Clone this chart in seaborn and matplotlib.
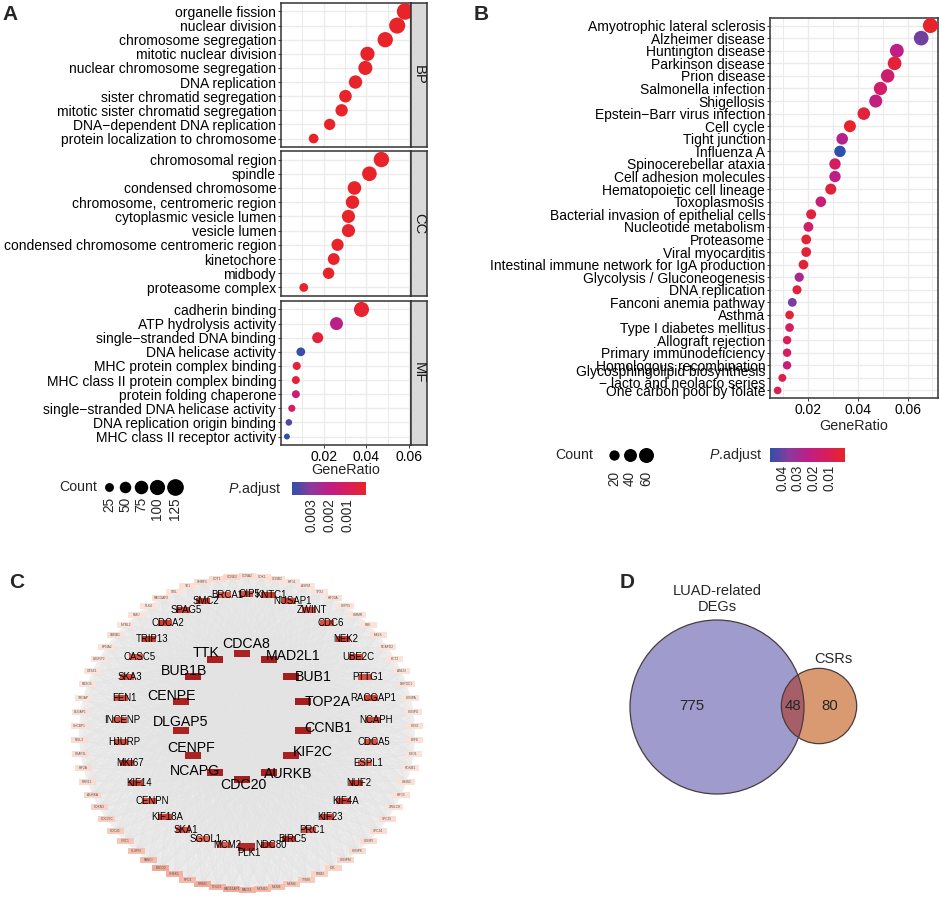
import numpy as np
import pandas as pd
import matplotlib
matplotlib.use('Agg')
import matplotlib.pyplot as plt
import seaborn as sns
from matplotlib.colors import LinearSegmentedColormap, Normalize
from matplotlib.colorbar import ColorbarBase
from matplotlib.patches import Rectangle, Circle, Ellipse

W, H = 941, 899
MINUS = '\u2212'

# ---------------- panel A: GO enrichment ----------------
bp_terms = ['organelle fission', 'nuclear division', 'chromosome segregation',
            'mitotic nuclear division', 'nuclear chromosome segregation', 'DNA replication',
            'sister chromatid segregation', 'mitotic sister chromatid segregation',
            'DNA' + MINUS + 'dependent DNA replication', 'protein localization to chromosome']
bp_ratio = [0.0581, 0.0544, 0.0488, 0.0405, 0.0395, 0.0349, 0.0302, 0.0284, 0.0228, 0.0153]
bp_count = [122, 114, 102, 85, 83, 73, 63, 60, 48, 32]
bp_padj = [1e-20, 1e-19, 1e-18, 1e-15, 1e-15, 1e-13, 1e-12, 1e-11, 1e-9, 1e-6]

cc_terms = ['chromosomal region', 'spindle', 'condensed chromosome',
            'chromosome, centromeric region', 'cytoplasmic vesicle lumen', 'vesicle lumen',
            'condensed chromosome centromeric region', 'kinetochore', 'midbody',
            'proteasome complex']
cc_ratio = [0.0470, 0.0414, 0.0344, 0.0335, 0.0316, 0.0316, 0.0265, 0.0247, 0.0223, 0.0107]
cc_count = [103, 91, 76, 74, 70, 70, 58, 54, 49, 24]
cc_padj = [1e-14, 1e-12, 1e-11, 1e-10, 1e-8, 1e-8, 1e-9, 1e-8, 1e-7, 1e-5]

mf_terms = ['cadherin binding', 'ATP hydrolysis activity', 'single' + MINUS + 'stranded DNA binding',
            'DNA helicase activity', 'MHC protein complex binding',
            'MHC class II protein complex binding', 'protein folding chaperone',
            'single' + MINUS + 'stranded DNA helicase activity', 'DNA replication origin binding',
            'MHC class II receptor activity']
mf_ratio = [0.0377, 0.0260, 0.0172, 0.0093, 0.0074, 0.0070, 0.0070, 0.0051, 0.0037, 0.0028]
mf_count = [98, 68, 45, 24, 19, 18, 18, 13, 10, 7]
mf_padj = [0.0001, 0.0021, 0.0004, 0.0040, 0.0003, 0.0004, 0.0015, 0.0011, 0.0038, 0.0041]

go_facets = ['BP', 'CC', 'MF']
go_count_breaks = [25, 50, 75, 100, 125]
go_padj_breaks = [0.003, 0.002, 0.001]

# ---------------- panel B: KEGG enrichment ----------------
kegg_terms = ['Amyotrophic lateral sclerosis', 'Alzheimer disease', 'Huntington disease',
              'Parkinson disease', 'Prion disease', 'Salmonella infection', 'Shigellosis',
              'Epstein' + MINUS + 'Barr virus infection', 'Cell cycle', 'Tight junction',
              'Influenza A', 'Spinocerebellar ataxia', 'Cell adhesion molecules',
              'Hematopoietic cell lineage', 'Toxoplasmosis',
              'Bacterial invasion of epithelial cells', 'Nucleotide metabolism', 'Proteasome',
              'Viral myocarditis', 'Intestinal immune network for IgA production',
              'Glycolysis / Gluconeogenesis', 'DNA replication', 'Fanconi anemia pathway',
              'Asthma', 'Type I diabetes mellitus', 'Allograft rejection',
              'Primary immunodeficiency', 'Homologous recombination',
              'Glycosphingolipid biosynthesis\n' + MINUS + ' lacto and neolacto series',
              'One carbon pool by folate']
kegg_ratio = [0.0692, 0.0655, 0.0557, 0.0548, 0.0520, 0.0491, 0.0472, 0.0424, 0.0368, 0.0337,
              0.0328, 0.0308, 0.0308, 0.0291, 0.0251, 0.0212, 0.0201, 0.0192, 0.0192, 0.0181,
              0.0164, 0.0155, 0.0136, 0.0125, 0.0125, 0.0115, 0.0115, 0.0115, 0.0096, 0.0077]
kegg_count = [60, 57, 48, 47, 45, 43, 41, 37, 32, 29, 28, 27, 27, 25, 22, 18, 17, 17, 17, 16,
              14, 13, 12, 11, 11, 10, 10, 10, 8, 7]
kegg_padj = [0.0002, 0.039, 0.024, 0.003, 0.016, 0.014, 0.022, 0.004, 0.001, 0.026,
             0.0478, 0.013, 0.024, 0.004, 0.019, 0.005, 0.015, 0.003, 0.003, 0.004,
             0.029, 0.004, 0.038, 0.003, 0.013, 0.011, 0.012, 0.020, 0.008, 0.010]
kegg_count_breaks = [20, 40, 60]
kegg_padj_breaks = [0.04, 0.03, 0.02, 0.01]

# ---------------- panel C: PPI network ----------------
inner_genes = ['CDCA8', 'MAD2L1', 'BUB1', 'TOP2A', 'CCNB1', 'KIF2C', 'AURKB', 'CDC20',
               'NCAPG', 'CENPF', 'DLGAP5', 'CENPE', 'BUB1B', 'TTK']
inner_degree = [64, 66, 66, 66, 66, 64, 65, 66, 64, 64, 64, 64, 66, 65]
middle_genes = ['OIP5', 'KNTC1', 'NUSAP1', 'ZWINT', 'CDC6', 'NEK2', 'UBE2C', 'PTTG1', 'RACGAP1',
                'NCAPH', 'CDCA5', 'ESPL1', 'NUF2', 'KIF4A', 'KIF23', 'PRC1', 'BIRC5', 'NDC80',
                'PLK1', 'MCM2', 'SGOL1', 'SKA1', 'KIF18A', 'CENPN', 'KIF14', 'MKI67', 'HJURP',
                'INCENP', 'FEN1', 'SKA3', 'CASC5', 'TRIP13', 'CDCA2', 'SPAG5', 'SMC2', 'BRCA1']
middle_degree = [45, 50, 48, 46, 44, 52, 48, 45, 49, 48, 44, 40, 51, 51, 50, 46, 52, 52,
                 60, 42, 38, 45, 49, 45, 51, 52, 46, 45, 46, 45, 43, 51, 49, 50, 51, 41]
outer_genes = ['CCNA2', 'CDK1', 'CCNB2', 'KIF11', 'ASPM', 'TPX2', 'KIF20A', 'CEP55', 'HMMR',
               'PBK', 'MELK', 'NCAPD2', 'ECT2', 'ANLN', 'DEPDC1', 'CENPA', 'CENPU', 'CKS2',
               'E2F8', 'EXO1', 'FOXM1', 'GINS2', 'KIF15', 'ZWILCH', 'SPC25', 'SPC24', 'CENPI',
               'CENPK', 'CENPM', 'DTL', 'RRM2', 'TYMS', 'MCM4', 'MCM6', 'MCM10', 'RAD51',
               'RAD51AP1', 'POLE2', 'PRIM1', 'RFC4', 'CHEK1', 'ESCO2', 'FANCI', 'CLSPN', 'ORC1',
               'CDC45', 'CDC25C', 'CDKN3', 'AURKA', 'PRR11', 'KIF2A', 'CKAP2L', 'NEIL3',
               'SHCBP1', 'DLGAP1', 'TROAP', 'FBXO5', 'GTSE1', 'HJURP2', 'KPNA2', 'LMNB1',
               'MYBL2', 'NMU', 'PLK4', 'RACGAP2', 'STIL', 'TK1', 'UHRF1', 'CDT1', 'CCNE2']
outer_degree = [8, 7, 7, 6, 6, 6, 7, 6, 6, 6, 7, 6, 6, 6, 7, 6, 6, 7, 7, 6, 6, 7, 7, 6,
                8, 8, 9, 9, 10, 11, 12, 14, 16, 18, 20, 22, 24, 22, 24, 20, 22, 24, 20, 18,
                16, 14, 13, 12, 10, 9, 9, 8, 8, 7, 7, 6, 6, 6, 6, 6, 7, 6, 6, 6, 7, 6, 7, 8,
                9, 10]

# ---------------- panel D: Venn ----------------
venn_sets = ['LUAD-related\nDEGs', 'CSRs']
venn_only = [775, 80]
venn_both = 48

# ---------------- style ----------------
sns.set_theme(style='white')
plt.rcParams['font.family'] = ['Liberation Sans', 'DejaVu Sans']
plt.rcParams['mathtext.fontset'] = 'custom'
plt.rcParams['mathtext.rm'] = 'Liberation Sans'
plt.rcParams['mathtext.it'] = 'Liberation Sans:italic'

padj_cmap = LinearSegmentedColormap.from_list(
    'padj', [(0, '#E8232A'), (0.25, '#D61E5E'), (0.5, '#BE1E86'), (0.75, '#8A3A9E'), (1, '#2F50A8')])
node_cmap = LinearSegmentedColormap.from_list(
    'node', ['#FBE3D9', '#F5B7A5', '#E5725F', '#C43A2E', '#A61F1F'])
BORDER = '#333333'
GRID = '#EBEBEB'
FS = 10.0      # axis text
LFS = 10.2     # legend titles
LTS = 9.8      # legend labels


def px_axes(fig, x0, y0, x1, y1, **kw):
    return fig.add_axes([x0 / W, 1 - y1 / H, (x1 - x0) / W, (y1 - y0) / H], **kw)


def go_dot(c):
    return (2.6 + 1.26 * np.sqrt(c))  # diameter in px


def kegg_dot(c):
    return (3.9 + 1.43 * np.sqrt(c))


def s_pt(d_px):
    return (d_px * 0.72) ** 2


def expand(vals):
    lo, hi = min(vals), max(vals)
    pad = 0.05 * (hi - lo)
    return lo - pad, hi + pad


def dot_panel(ax, terms, ratio, count, padj, norm, dot_fn, xlim, minor):
    df = pd.DataFrame({'term': terms, 'ratio': ratio, 'count': count, 'padj': padj})
    sizes = {c: s_pt(dot_fn(c)) for c in df['count'].unique()}
    sns.scatterplot(data=df, x='ratio', y='term', hue='padj', size='count', palette=padj_cmap,
                    hue_norm=norm, sizes=sizes, linewidth=0, legend=False, ax=ax, zorder=3)
    n = len(terms)
    ax.set_xlim(*xlim)
    ax.set_ylim(n - 0.4, -0.6)
    ax.set_yticks(range(n))
    ax.set_yticklabels(terms, fontsize=FS, color='black', linespacing=0.8)
    ax.set_xticks([0.02, 0.04, 0.06])
    ax.set_xticks(minor, minor=True)
    ax.set_xticklabels(['0.02', '0.04', '0.06'], fontsize=FS, color='black')
    ax.grid(True, which='major', color=GRID, lw=1.0)
    ax.grid(True, which='minor', axis='x', color=GRID, lw=0.7)
    ax.set_axisbelow(True)
    ax.set_xlabel('')
    ax.set_ylabel('')
    ax.tick_params(which='major', length=2.5, width=0.7, color=BORDER, pad=1.0,
                   left=True, bottom=True)
    ax.tick_params(which='minor', length=0)
    for sp in ax.spines.values():
        sp.set_color(BORDER)
        sp.set_linewidth(1.1)


def count_legend(ov, x_title_right, y, breaks, dot_fn, x_first, label_gap):
    ov.text(x_title_right, y, 'Count', ha='right', va='center', fontsize=LFS)
    x = x_first
    for b in breaks:
        d = dot_fn(b)
        w = max(16, d + 1.5)
        cx = x + w / 2
        ov.scatter([cx], [y], s=s_pt(d), color='black', linewidth=0)
        ov.text(cx, y + label_gap, str(b), rotation=90, ha='center', va='top', fontsize=LTS)
        x += w


def padj_bar(fig, ov, box, norm, breaks, fmt, gap):
    x0, y0, x1, y1 = box
    cax = px_axes(fig, x0, y0, x1, y1)
    cb = ColorbarBase(cax, cmap=padj_cmap, norm=norm, orientation='horizontal')
    cb.outline.set_visible(False)
    cax.invert_xaxis()
    cb.set_ticks(breaks)
    cax.set_xticklabels([fmt.format(b) for b in breaks], rotation=90, fontsize=LTS)
    cax.tick_params(axis='x', direction='in', length=3, width=0.8, color='white',
                    top=True, bottom=True, pad=2)
    ov.text(x0 - gap, (y0 + y1) / 2, r'$\mathit{P}$.adjust', ha='right', va='center',
            fontsize=LFS)


fig = plt.figure(figsize=(W / 100, H / 100), dpi=100)
fig.patch.set_facecolor('white')
ov = px_axes(fig, 0, 0, W, H, zorder=10)
ov.set_xlim(0, W)
ov.set_ylim(H, 0)
ov.axis('off')
ov.patch.set_alpha(0)

# ---- A ----
go_data = [(bp_terms, bp_ratio, bp_count, bp_padj),
           (cc_terms, cc_ratio, cc_count, cc_padj),
           (mf_terms, mf_ratio, mf_count, mf_padj)]
all_padj = bp_padj + cc_padj + mf_padj
go_norm = Normalize(vmin=min(all_padj), vmax=max(all_padj))
go_xlim = expand(bp_ratio + cc_ratio + mf_ratio)
facet_rows = [(3, 147), (151, 296), (301, 445)]
for i, (name, (t, r, c, p), (y0, y1)) in enumerate(zip(go_facets, go_data, facet_rows)):
    ax = px_axes(fig, 281, y0, 411, y1)
    dot_panel(ax, t, r, c, p, go_norm, go_dot, go_xlim, [0.01, 0.03, 0.05])
    if i < 2:
        ax.tick_params(axis='x', which='major', length=0, labelbottom=False)
    st = px_axes(fig, 411, y0, 427, y1)
    st.set_facecolor('#D9D9D9')
    st.set_xticks([])
    st.set_yticks([])
    for sp in st.spines.values():
        sp.set_color(BORDER)
        sp.set_linewidth(1.1)
    st.text(0.5, 0.5, name, rotation=-90, ha='center', va='center', fontsize=10.6,
            color='#1A1A1A', transform=st.transAxes)
ov.text(346, 470, 'GeneRatio', ha='center', va='center', fontsize=10.4)
count_legend(ov, 97, 487, go_count_breaks, go_dot, 101, 10)
padj_bar(fig, ov, (292, 482, 366, 495), go_norm, go_padj_breaks, '{:.3f}', 11)

# ---- B ----
axB = px_axes(fig, 770, 18, 938, 398)
kegg_norm = Normalize(vmin=0.0, vmax=max(kegg_padj))
dot_panel(axB, kegg_terms, kegg_ratio, kegg_count, kegg_padj, kegg_norm, kegg_dot,
          expand(kegg_ratio), [0.01, 0.03, 0.05, 0.07])
ov.text(854, 426, 'GeneRatio', ha='center', va='center', fontsize=10.4)
count_legend(ov, 593, 455, kegg_count_breaks, kegg_dot, 606, 16)
padj_bar(fig, ov, (770, 448, 845, 462), kegg_norm, kegg_padj_breaks, '{:.2f}', 8)

# ---- C ----
axC = px_axes(fig, 0, 560, 480, H)
axC.set_xlim(0, 480)
axC.set_ylim(H, 560)
axC.axis('off')
deg_all = inner_degree + middle_degree + outer_degree
node_norm = Normalize(vmin=min(deg_all), vmax=max(deg_all))


def ring(n, cx, cy, rx, ry):
    ang = np.pi / 2 - 2 * np.pi * np.arange(n) / n
    return cx + rx * np.cos(ang), cy - ry * np.sin(ang)


ix, iy = ring(len(inner_genes), 242, 716, 63, 63)
mx, my = ring(len(middle_genes), 246, 720, 126.5, 126.5)
ox, oy = ring(len(outer_genes), 247, 733, 168, 157)

axC.add_patch(Ellipse((247, 733), 2 * 168, 2 * 157, facecolor='#EEEEEE', edgecolor='none', zorder=0))
for xs, ys in [(ox, oy), (mx, my)]:
    for a, b in zip(xs, ys):
        for c_, d_ in zip(ix, iy):
            axC.plot([a, c_], [b, d_], color='#E2E2E2', lw=0.25, zorder=1)
for k in range(len(ox)):
    for j in range(0, len(mx), 3):
        axC.plot([ox[k], mx[j]], [oy[k], my[j]], color='#E6E6E6', lw=0.2, zorder=1)

for g, d, x, y in zip(outer_genes, outer_degree, ox, oy):
    axC.add_patch(Rectangle((x - 8.5, y - 3), 17, 6, facecolor=node_cmap(node_norm(d)),
                            edgecolor='none', zorder=2))
    axC.text(x, y, g, fontsize=2.3, ha='center', va='center', color='#555555', zorder=3)
for g, d, x, y in zip(middle_genes, middle_degree, mx, my):
    bw, bh = (17, 8) if d >= 58 else (14, 6)
    axC.add_patch(Rectangle((x - bw / 2, y - bh / 2), bw, bh, facecolor=node_cmap(node_norm(d)),
                            edgecolor='none', zorder=2))
    axC.text(x + 3, y + (6 if d >= 58 else 0), g, fontsize=6.9, ha='center', va='center',
             color='black', zorder=3)
inner_label_dx = [4, 24, 22, 24, 25, 22, 19, 1, -20, -2, 0, -9, -9, -9]
inner_label_dy = [-9, -3, 0, 0, -2, -3, 1, 6, -2, -7, -8, -6, -6, -6]
for g, d, x, y, dx, dy in zip(inner_genes, inner_degree, ix, iy, inner_label_dx, inner_label_dy):
    axC.add_patch(Rectangle((x - 8, y - 3.5), 16, 7, facecolor=node_cmap(node_norm(d)),
                            edgecolor='none', zorder=2))
    axC.text(x + dx, y + dy, g, fontsize=10.2, ha='center', va='center', color='black', zorder=3)

# ---- D ----
axD = px_axes(fig, 600, 560, W, H)
axD.set_xlim(600, W)
axD.set_ylim(H, 560)
axD.axis('off')
set_sizes = [venn_only[0] + venn_both, venn_only[1] + venn_both]
r_big = 87.0
r_small = r_big * (set_sizes[1] / set_sizes[0]) ** 0.45
c_big = (717, 707)
c_small = (c_big[0] + 102, 706)
axD.add_patch(Circle(c_big, r_big, facecolor='#A09BCD', edgecolor='none', zorder=1))
axD.add_patch(Circle(c_small, r_small, facecolor='#D99A72', edgecolor='none', zorder=1))
lens = Circle(c_small, r_small, facecolor='#A65F69', edgecolor='none', zorder=2)
axD.add_patch(lens)
lens.set_clip_path(Circle(c_big, r_big, transform=axD.transData))
axD.add_patch(Circle(c_big, r_big, facecolor='none', edgecolor='#4A3C3C', lw=0.9, zorder=3))
axD.add_patch(Circle(c_small, r_small, facecolor='none', edgecolor='#4A3C3C', lw=0.9, zorder=3))
axD.text(717, 599, venn_sets[0], ha='center', va='center', fontsize=10.5, linespacing=1.1)
axD.text(833, 659, venn_sets[1], ha='center', va='center', fontsize=10.5)
axD.text(692, 706, str(venn_only[0]), ha='center', va='center', fontsize=10.8)
axD.text(793, 706, str(venn_both), ha='center', va='center', fontsize=10.8, zorder=4)
axD.text(830, 706, str(venn_only[1]), ha='center', va='center', fontsize=10.8)

# ---- panel letters ----
for lab, (x, y) in zip('ABCD', [(10, 14), (481, 14), (17, 582), (627, 582)]):
    ov.text(x, y, lab, fontsize=15, fontweight='bold', ha='center', va='center')

fig.savefig('out.png', dpi=100, facecolor='white')
